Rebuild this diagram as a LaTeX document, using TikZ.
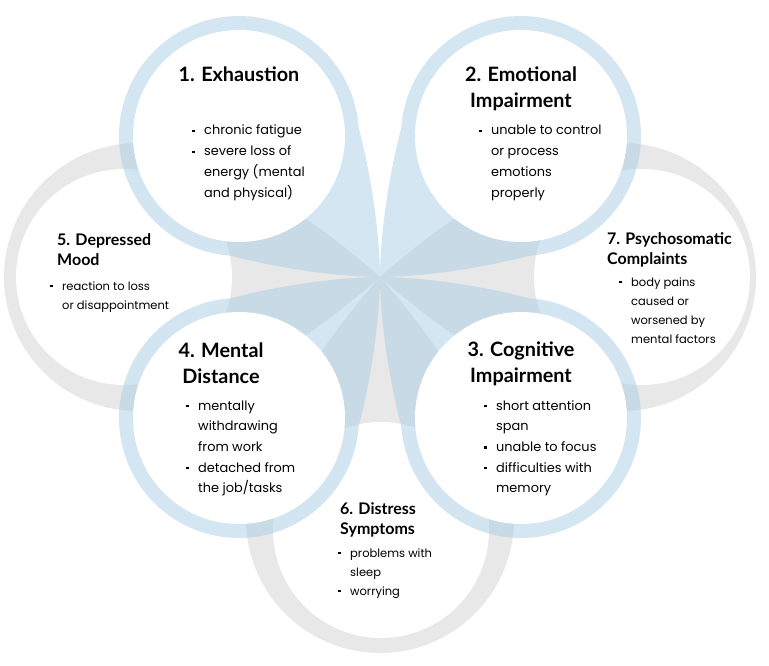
\documentclass[tikz,border=0pt]{standalone}
\usepackage{fontspec}
\setmainfont{Poppins}
\newfontfamily\headfont{Lato}
\usepackage{tikz}

\definecolor{petalblue}{RGB}{168,205,228}
\definecolor{petalgrey}{RGB}{232,232,232}

\newcommand{\bul}{\leavevmode\llap{\rule[2.7pt]{2.4pt}{2.4pt}\hspace{9.5pt}}}

\tikzset{
  headbig/.style={font=\headfont\bfseries\fontsize{19.8}{26}\selectfont, anchor=base, inner sep=0pt},
  headsmall/.style={font=\headfont\bfseries\fontsize{16}{20.5}\selectfont, anchor=base west, inner sep=0pt},
  textbig/.style={font=\fontsize{12.9}{20.7}\selectfont, anchor=base west, inner sep=0pt},
  textsmall/.style={font=\fontsize{11.5}{19}\selectfont, anchor=base west, inner sep=0pt},
  bluefill/.style={fill=petalblue, fill opacity=0.5},
  greyfill/.style={fill=petalgrey},
  bluepetal/.pic={
    \fill[bluefill] (0,0) .. controls (0,-60) and (-20.8,-190.5) .. (-56.15,-225.85)
      arc[start angle=-45, end angle=-225, radius=120]
      .. controls (-190.5,-20.8) and (-60,0) .. (0,0) -- cycle
      (-56.15,-225.85) arc[start angle=-45, end angle=-405, radius=120];
  },
  greypetal/.pic={
    \fill[greyfill] (0,0) .. controls (-52,-47) and (-149.3,-113.9) .. (-207.3,-129.4)
      arc[start angle=-75, end angle=-285, radius=134]
      .. controls (-149.3,113.9) and (-52,47) .. (0,0);
  }
}

\begin{document}
\begin{tikzpicture}[x=1pt, y=-1pt]
    \useasboundingbox (0,0) rectangle (769,666);
    \coordinate (c) at (380,277);

    % grey petals behind
    \pic at (c) {greypetal};
    \pic[rotate=180] at (c) {greypetal};
    \pic[rotate=90] at (c) {greypetal};
    \fill[white] (124,277) circle[radius=108];
    \fill[white] (642,277) circle[radius=108];
    \fill[white] (381,530) circle[radius=108];

    % blue petals
    \foreach \r in {0,90,180,270}
        \pic[rotate=\r] at (c) {bluepetal};
    \foreach \p in {(239,136),(521,136),(521,418),(239,418)}
        \fill[white] \p circle[radius=106];

    \node[headbig] at (239,82) (exh) {1. Exhaustion};
    \node[textbig] at (204,135) (exhlist) {\parbox[t]{150pt}{\bul chronic fatigue\\ \bul severe loss of\\ energy (mental\\ and physical)}};

    \node[headbig] at (521,82) (emo) {\parbox[t]{200pt}{\centering 2. Emotional\\ Impairment}};
    \node[textbig] at (491,135) (emolist) {\parbox[t]{150pt}{\bul unable to control\\ or process\\ emotions\\ properly}};

    \node[headbig] at (521,356) (cog) {\parbox[t]{200pt}{\centering 3. Cognitive\\ Impairment}};
    \node[textbig] at (496,410) (coglist) {\parbox[t]{150pt}{\bul short attention\\ span\\ \bul unable to focus\\ \bul difficulties with\\ memory}};

    \node[headbig] at (221,357) (ment) {\parbox[t]{200pt}{\centering 4. Mental\\ Distance}};
    \node[textbig] at (198,410) (mentlist) {\parbox[t]{150pt}{\bul mentally\\ withdrawing\\ from work\\ \bul detached from\\ the job/tasks}};

    \node[headsmall] at (57,245) (depr) {\parbox[t]{150pt}{5. Depressed\\ Mood}};
    \node[textsmall] at (62,290) (deprlist) {\parbox[t]{150pt}{\bul reaction to loss\\ or disappointment}};

    \node[headsmall] at (340,514) (dist) {\parbox[t]{150pt}{6. Distress\\ Symptoms}};
    \node[textsmall] at (350,557) (distlist) {\parbox[t]{150pt}{\bul problems with\\ sleep\\ \bul worrying}};

    \node[headsmall] at (607,244) (psych) {\parbox[t]{160pt}{7. Psychosomatic\\ Complaints}};
    \node[textsmall] at (631,286) (psychlist) {\parbox[t]{150pt}{\bul body pains\\ caused or\\ worsened by\\ mental factors}};
\end{tikzpicture}
\end{document}
